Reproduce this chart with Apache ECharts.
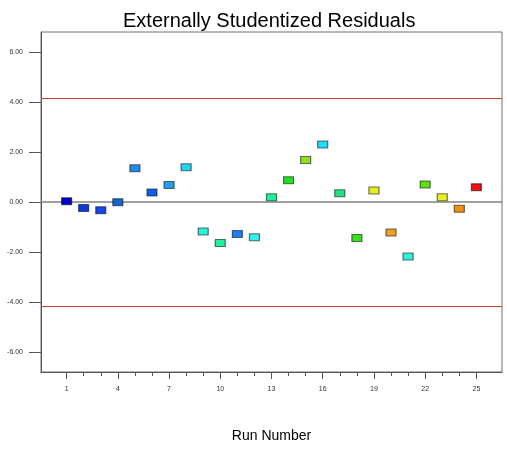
<!DOCTYPE html>
<html>
<head>
    <meta charset="utf-8">
    <title>Externally Studentized Residuals</title>
    <script src="https://cdn.jsdelivr.net/npm/echarts@6/dist/echarts.min.js"></script>
    <style>
        html, body { margin: 0; padding: 0; background: #fff; }
    </style>
</head>
<body>
    <div id="chart" style="width: 507px;height:456px;"></div>

    <script>
        // run number and externally studentized residual for each run
        const runs = [1, 2, 3, 4, 5, 6, 7, 8, 9, 10, 11, 12, 13, 14, 15, 16, 17, 18, 19, 20, 21, 22, 23, 24, 25]
        const residuals = [0.03, -0.24, -0.33, -0.01, 1.35, 0.38, 0.68, 1.39, -1.18, -1.64, -1.28, -1.41,
            0.19, 0.87, 1.68, 2.30, 0.35, -1.44, 0.46, -1.22, -2.18, 0.70, 0.19, -0.27, 0.59]
        const pointColors = ['#0000c8', '#1038e0', '#1448e8', '#1a64d0', '#1e8cec', '#1060e6', '#1ea0f0',
            '#22d4f0', '#30f0dc', '#20f0a0', '#1c7cf0', '#30f0f0', '#20f0a0', '#20e020', '#94e020',
            '#20dcf4', '#20e484', '#38e020', '#e4f020', '#f0a020', '#30f0dc', '#5ce010', '#e8f020',
            '#f09010', '#f01010']
        const limits = [4.15, -4.15]
        const yTicks = [-6, -4, -2, 0, 2, 4, 6]
        const xLabelTicks = [1, 4, 7, 10, 13, 16, 19, 22, 25]

        const font = 'Liberation Sans, Arial, sans-serif'
        const chart = echarts.init(document.getElementById('chart'))
        chart.setOption({
            animation: false,
            title: {
                text: 'Externally Studentized Residuals',
                left: 118,
                top: 6,
                textStyle: { fontSize: 20, fontWeight: 'normal', color: '#000', fontFamily: font }
            },
            grid: {
                left: 41, right: 5, top: 32, bottom: 84,
                show: true, borderColor: '#707070', borderWidth: 1
            },
            xAxis: [{
                type: 'value',
                min: -0.5, max: 26.5,
                name: 'Run Number',
                nameLocation: 'middle',
                nameGap: 57,
                nameTextStyle: { fontSize: 14, color: '#000', fontFamily: font },
                axisLine: { onZero: false, lineStyle: { color: '#555' } },
                axisTick: { length: 7, customValues: xLabelTicks, lineStyle: { color: '#555' } },
                axisLabel: { customValues: xLabelTicks, fontSize: 7, color: '#333', margin: 14, fontFamily: font },
                splitLine: { show: false }
            }, {
                type: 'value',
                position: 'bottom',
                min: -0.5, max: 26.5,
                axisLine: { show: false, onZero: false },
                axisTick: { length: 4, customValues: runs, lineStyle: { color: '#555' } },
                axisLabel: { show: false },
                splitLine: { show: false }
            }],
            yAxis: {
                type: 'value',
                min: -6.8, max: 6.8,
                axisLine: { show: true, onZero: false, lineStyle: { color: '#555' } },
                axisTick: { show: true, length: 12, customValues: yTicks, lineStyle: { color: '#555' } },
                axisLabel: {
                    customValues: yTicks, fontSize: 7, color: '#333', margin: 18, fontFamily: font,
                    formatter: v => v.toFixed(2)
                },
                splitLine: { show: false }
            },
            series: [{
                type: 'scatter',
                symbol: 'rect',
                symbolSize: [10, 7],
                data: runs.map((r, i) => ({
                    value: [r, residuals[i]],
                    itemStyle: { color: pointColors[i] }
                })),
                itemStyle: { borderColor: 'rgba(0,0,0,0.55)', borderWidth: 1, opacity: 1 },
                z: 5,
                markLine: {
                    silent: true,
                    symbol: 'none',
                    label: { show: false },
                    data: [
                        { yAxis: 0, lineStyle: { color: '#808080', width: 1.5, type: 'solid' } },
                        ...limits.map(v => ({ yAxis: v, lineStyle: { color: '#d0402c', width: 1, type: 'solid' } }))
                    ]
                }
            }]
        })
    </script>
</body>
</html>
